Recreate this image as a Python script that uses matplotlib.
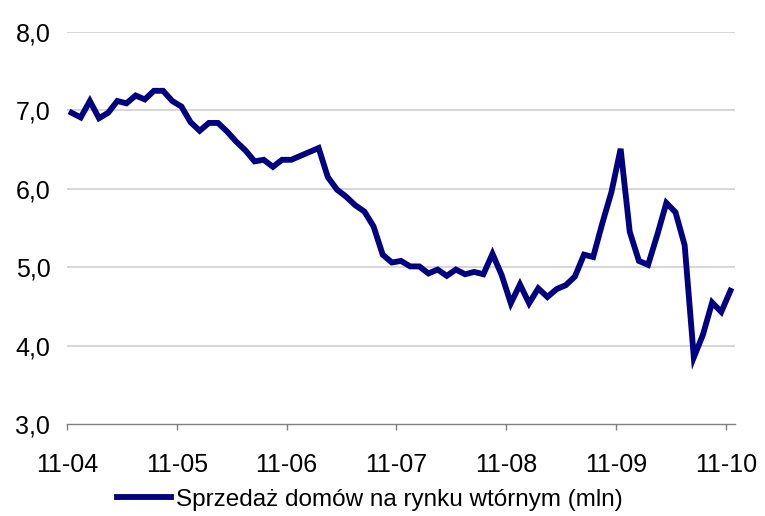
import matplotlib
matplotlib.use("Agg")
import matplotlib.pyplot as plt
import numpy as np

# Monthly existing home sales, Nov 2004 - Nov 2010 (mln, SAAR)
values = [6.97, 6.91, 7.12, 6.90, 6.97, 7.12, 7.09, 7.19, 7.14, 7.25,
          7.25, 7.12, 7.05, 6.85, 6.74, 6.84, 6.84, 6.73, 6.60, 6.49,
          6.35, 6.37, 6.28, 6.37, 6.37, 6.42, 6.47, 6.52, 6.15, 5.99,
          5.90, 5.79, 5.71, 5.52, 5.16, 5.06, 5.08, 5.01, 5.01, 4.92,
          4.97, 4.89, 4.97, 4.91, 4.94, 4.91, 5.17, 4.90, 4.54, 4.78,
          4.54, 4.73, 4.62, 4.72, 4.77, 4.88, 5.16, 5.13, 5.56, 5.96,
          6.51, 5.45, 5.08, 5.03, 5.41, 5.82, 5.70, 5.28, 3.85, 4.14,
          4.55, 4.43, 4.70]
tick_labels = ["11-04", "11-05", "11-06", "11-07", "11-08", "11-09", "11-10"]
y_ticks = [3.0, 4.0, 5.0, 6.0, 7.0, 8.0]
series_name = "Sprzedaż domów na rynku wtórnym (mln)"

plt.rcParams['font.family'] = ['Liberation Sans', 'DejaVu Sans']

fig = plt.figure(figsize=(7.65, 5.16), dpi=100)
ax = fig.add_axes([67/765, 1-424/516, (735-67)/765, (424-32)/516])

x = np.arange(len(values)) + 0.5
line, = ax.plot(x, values, color='#000080', lw=4.2, solid_joinstyle='miter',
                solid_capstyle='projecting', label=series_name, zorder=3)

ax.set_xlim(0, len(values))
ax.set_ylim(3, 8)
ax.set_yticks(y_ticks)
ax.set_yticklabels([f"{v:.1f}".replace('.', ',') for v in y_ticks])
ax.set_xticks(np.arange(len(tick_labels)) * 12)
ax.set_xticklabels(tick_labels)

for v in y_ticks[1:]:
    ax.axhline(v, color='#d0d0d0', lw=1.2, zorder=1)

for s in ['top', 'right', 'left']:
    ax.spines[s].set_visible(False)
ax.spines['bottom'].set_color('#808080')
ax.spines['bottom'].set_linewidth(1.0)

ax.tick_params(axis='y', length=0, pad=12, labelsize=18)
ax.tick_params(axis='x', direction='out', length=4, width=1.0, color='#808080',
               pad=17, labelsize=18)

fig.legend(handles=[line], loc='center', bbox_to_anchor=(370/765, 1-500/516),
           frameon=False, fontsize=17.5, handlelength=2.2, handletextpad=0.2,
           borderaxespad=0)

fig.savefig("out.png", dpi=100)
